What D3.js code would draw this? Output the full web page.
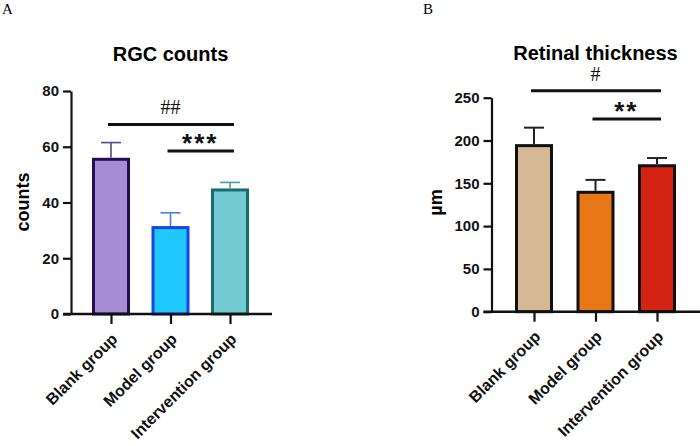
<!DOCTYPE html>
<html>
<head>
<meta charset="utf-8">
<script src="https://cdn.jsdelivr.net/npm/d3@7"></script>
<style>
  html, body { margin: 0; padding: 0; background: #fff; }
  svg { display: block; font-family: "Liberation Sans", Arial, sans-serif; }
</style>
</head>
<body>
<div id="chart"></div>
<script>
// groups shared by both panels
const groups = ["Blank group", "Model group", "Intervention group"];

// panel A - RGC counts
const rgcMean = [55.5, 31, 44.5];
const rgcSd = [6, 5.3, 2.7];
const rgcTicks = [0, 20, 40, 60, 80];
const rgcFill = ["#a68bd5", "#1ec8fd", "#73cad0"];
const rgcStroke = ["#22104c", "#1646e8", "#1b6a72"];
const rgcErr = ["#5a4688", "#4d7ff2", "#4c9aa0"];
const rgcSig = [
  { from: 0, to: 2, level: 68, label: "##", kind: "hash" },
  { from: 1, to: 2, level: 58.5, label: "***", kind: "star" }
];

// panel B - Retinal thickness
const thickMean = [194, 139.5, 170.5];
const thickSd = [21, 14.5, 9];
const thickTicks = [0, 50, 100, 150, 200, 250];
const thickFill = ["#d5b997", "#e87716", "#d42312"];
const thickStroke = ["#111111", "#111111", "#111111"];
const thickErr = ["#222222", "#222222", "#222222"];
const thickSig = [
  { from: 0, to: 2, level: 258, label: "#", kind: "hash" },
  { from: 1, to: 2, level: 225, label: "**", kind: "star" }
];

const svg = d3.select("#chart").append("svg")
  .attr("width", 700)
  .attr("height", 446);

function drawPanel(p) {
  const g = svg.append("g");

  let y = d3.scaleLinear().domain([0, p.max]).range([p.bottom, p.top]);
  let x = d3.scalePoint().domain(groups).range([p.x0, p.x1]);

  // panel letter
  g.append("text")
    .attr("x", p.letterX).attr("y", 14)
    .attr("font-family", "Liberation Serif, serif")
    .attr("font-size", "15px")
    .text(p.letter);

  // title
  g.append("text")
    .attr("x", (p.x0 + p.x1) / 2).attr("y", p.titleY)
    .attr("text-anchor", "middle")
    .attr("font-weight", "bold")
    .attr("font-size", "20px")
    .text(p.title);

  // y label
  g.append("text")
    .attr("transform", "translate(" + p.ylabX + "," + p.ylabY + ") rotate(-90)")
    .attr("text-anchor", "middle")
    .attr("font-weight", "bold")
    .attr("font-size", "18px")
    .text(p.ylabel);

  // bars
  g.selectAll("rect.bar")
    .data(p.mean)
    .join("rect")
    .attr("class", "bar")
    .attr("x", (d, i) => x(groups[i]) - 17.5)
    .attr("width", 35)
    .attr("y", d => y(d))
    .attr("height", d => p.bottom - y(d))
    .attr("fill", (d, i) => p.fill[i])
    .attr("stroke", (d, i) => p.stroke[i])
    .attr("stroke-width", 3);

  // error bars (upper only)
  p.mean.forEach((m, i) => {
    let cx = x(groups[i]);
    g.append("line")
      .attr("x1", cx).attr("x2", cx)
      .attr("y1", y(m) - 1.5).attr("y2", y(m + p.sd[i]))
      .attr("stroke", p.err[i]).attr("stroke-width", p.errW);
    g.append("line")
      .attr("x1", cx - 10).attr("x2", cx + 10)
      .attr("y1", y(m + p.sd[i])).attr("y2", y(m + p.sd[i]))
      .attr("stroke", p.err[i]).attr("stroke-width", p.errW);
  });

  // y axis
  let yAxis = g.append("g")
    .attr("transform", "translate(" + p.axisX + ",0)")
    .call(d3.axisLeft(y).tickValues(p.ticks).tickSize(8).tickPadding(4).tickSizeOuter(0));
  yAxis.select(".domain").attr("stroke", "#111").attr("stroke-width", 2.2);
  yAxis.selectAll(".tick line").attr("stroke", "#111").attr("stroke-width", 2.2);
  yAxis.selectAll(".tick text")
    .attr("fill", "#111")
    .attr("font-family", "Liberation Sans, Arial, sans-serif")
    .attr("font-weight", "bold")
    .attr("font-size", "15px");

  // x axis
  g.append("line")
    .attr("x1", p.axisX - 8).attr("x2", p.xEnd)
    .attr("y1", p.bottom).attr("y2", p.bottom)
    .attr("stroke", "#111").attr("stroke-width", 2.6);
  let xAxis = g.append("g")
    .attr("transform", "translate(0," + p.bottom + ")")
    .call(d3.axisBottom(x).tickSize(10).tickSizeOuter(0));
  xAxis.select(".domain").remove();
  xAxis.selectAll(".tick line").attr("stroke", "#111").attr("stroke-width", 2.2);
  xAxis.selectAll(".tick text")
    .attr("fill", "#111")
    .attr("font-family", "Liberation Sans, Arial, sans-serif")
    .attr("font-weight", "bold")
    .attr("font-size", "16px")
    .attr("text-anchor", "end")
    .attr("y", 0).attr("dy", "0.35em")
    .attr("transform", "translate(3,22) rotate(-45)");

  // significance brackets
  p.sig.forEach(s => {
    let xa = x(groups[s.from]) - 3, xb = x(groups[s.to]) + 4;
    let ly = y(s.level);
    g.append("line")
      .attr("x1", xa).attr("x2", xb)
      .attr("y1", ly).attr("y2", ly)
      .attr("stroke", "#111").attr("stroke-width", 3);
    let t = g.append("text")
      .attr("x", (x(groups[s.from]) + x(groups[s.to])) / 2)
      .attr("text-anchor", "middle")
      .attr("fill", "#111")
      .text(s.label);
    if (s.kind == "hash") {
      t.attr("y", ly - 10)
        .attr("font-family", "Liberation Serif, serif")
        .attr("font-size", "20px");
    } else {
      t.attr("y", ly + 1)
        .attr("font-weight", "bold")
        .attr("font-size", "26px")
        .attr("letter-spacing", "2px");
    }
  });
}

drawPanel({
  letter: "A", letterX: 2, title: "RGC counts", titleY: 61,
  ylabel: "counts", ylabX: 28.5, ylabY: 202,
  max: 80, ticks: rgcTicks, top: 91, bottom: 314,
  x0: 111, x1: 230, axisX: 71, xEnd: 272,
  mean: rgcMean, sd: rgcSd, fill: rgcFill, stroke: rgcStroke, err: rgcErr, errW: 1.6,
  sig: rgcSig
});

drawPanel({
  letter: "B", letterX: 423, title: "Retinal thickness", titleY: 60,
  ylabel: "\u00b5m", ylabX: 442, ylabY: 202.5,
  max: 250, ticks: thickTicks, top: 97.7, bottom: 311.7,
  x0: 534, x1: 657, axisX: 491.5, xEnd: 700,
  mean: thickMean, sd: thickSd, fill: thickFill, stroke: thickStroke, err: thickErr, errW: 2,
  sig: thickSig
});
</script>
</body>
</html>
